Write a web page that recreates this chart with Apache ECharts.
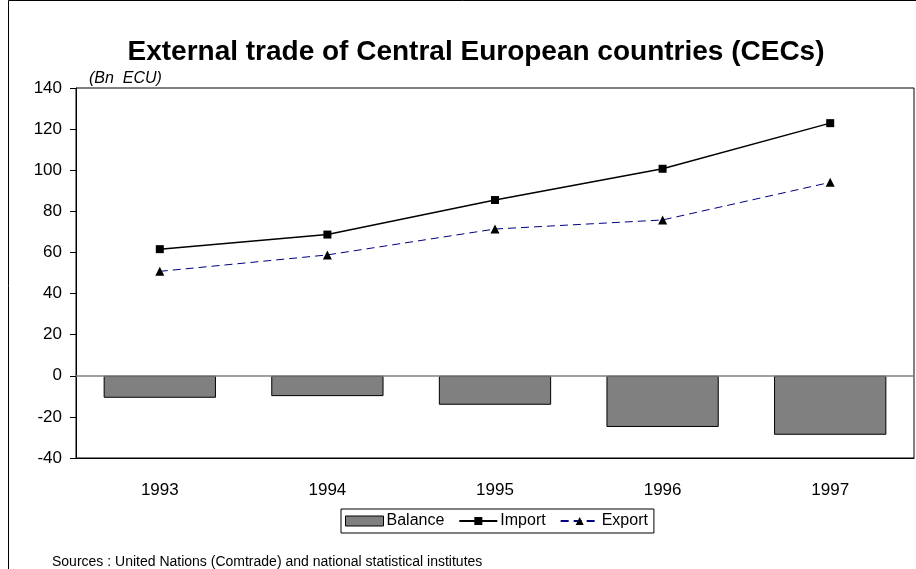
<!DOCTYPE html>
<html>
<head>
<meta charset="utf-8">
<script src="https://cdn.jsdelivr.net/npm/echarts@6/dist/echarts.min.js"></script>
<style>html,body{margin:0;padding:0;background:#fff}#c{width:916px;height:569px}</style>
</head>
<body>
<div id="c"></div>
<script>
var categories = ['1993', '1994', '1995', '1996', '1997'];
var balance = [-10.7, -9.9, -14.1, -24.9, -28.7];
var importVals = [61.6, 68.7, 85.5, 100.7, 122.9];
var exportVals = [50.8, 58.8, 71.4, 75.8, 94.1];
var yTicks = { min: -40, max: 140, interval: 20 };

var F = 'Arial, "Liberation Sans", sans-serif';
var chart = echarts.init(document.getElementById('c'));
chart.setOption({
  animation: false,
  backgroundColor: '#fff',
  title: {
    text: 'External trade of Central European countries (CECs)',
    left: 471, top: 33, textAlign: 'center',
    textStyle: { fontFamily: F, fontSize: 28, fontWeight: 'bold', color: '#000' }
  },
  graphic: [
    { type: 'rect', shape: { x: 8.5, y: 0.5, width: 940, height: 600 }, style: { fill: 'none', stroke: '#000', lineWidth: 1 }, silent: true },
    { type: 'text', left: 89, top: 71, style: { text: '(Bn  ECU)', font: 'italic 16px ' + F, fill: '#000' } },
    { type: 'text', left: 52, top: 555, style: { text: 'Sources : United Nations (Comtrade) and national statistical institutes', font: '14px ' + F, fill: '#000' } }
  ],
  legend: {
    left: 341, top: 509,
    padding: [4, 6, 4, 4],
    itemGap: 14, itemWidth: 38, itemHeight: 10,
    borderColor: '#000', borderWidth: 1,
    textStyle: { fontFamily: F, fontSize: 16, color: '#000', padding: [0, 0, 0, -2] },
    data: [
      { name: 'Balance', icon: 'rect', itemStyle: { color: '#808080', borderColor: '#000', borderWidth: 1 } },
      { name: 'Import' },
      { name: 'Export' }
    ]
  },
  grid: { left: 76, right: 2, top: 88, bottom: 111, show: true, borderColor: '#000', borderWidth: 1 },
  xAxis: {
    type: 'category', data: categories,
    axisLine: { onZero: false, lineStyle: { color: '#000', width: 1 } },
    axisTick: { show: false },
    axisLabel: { fontFamily: F, fontSize: 17, color: '#000', margin: 24 }
  },
  yAxis: {
    type: 'value', min: yTicks.min, max: yTicks.max, interval: yTicks.interval,
    axisLine: { show: true, lineStyle: { color: '#000', width: 1 } },
    axisTick: { show: true, length: 6, lineStyle: { color: '#000' } },
    splitLine: { show: false },
    axisLabel: { fontFamily: F, fontSize: 17, color: '#000', margin: 14 }
  },
  series: [
    {
      name: 'Balance', type: 'bar', data: balance, barWidth: '67%',
      itemStyle: { color: '#808080', borderColor: '#000', borderWidth: 1 },
      markLine: {
        silent: true, symbol: 'none', label: { show: false },
        lineStyle: { color: '#808080', width: 1.5, type: 'solid' },
        data: [{ yAxis: 0 }]
      }
    },
    {
      name: 'Import', type: 'line', data: importVals,
      symbol: 'rect', symbolSize: 8,
      lineStyle: { color: '#000', width: 1.5 },
      itemStyle: { color: '#000' }
    },
    {
      name: 'Export', type: 'line', data: exportVals,
      symbol: 'triangle', symbolSize: 9,
      lineStyle: { color: '#000080', width: 1, type: [8, 5] },
      itemStyle: { color: '#000' }
    }
  ]
});
</script>
</body>
</html>
